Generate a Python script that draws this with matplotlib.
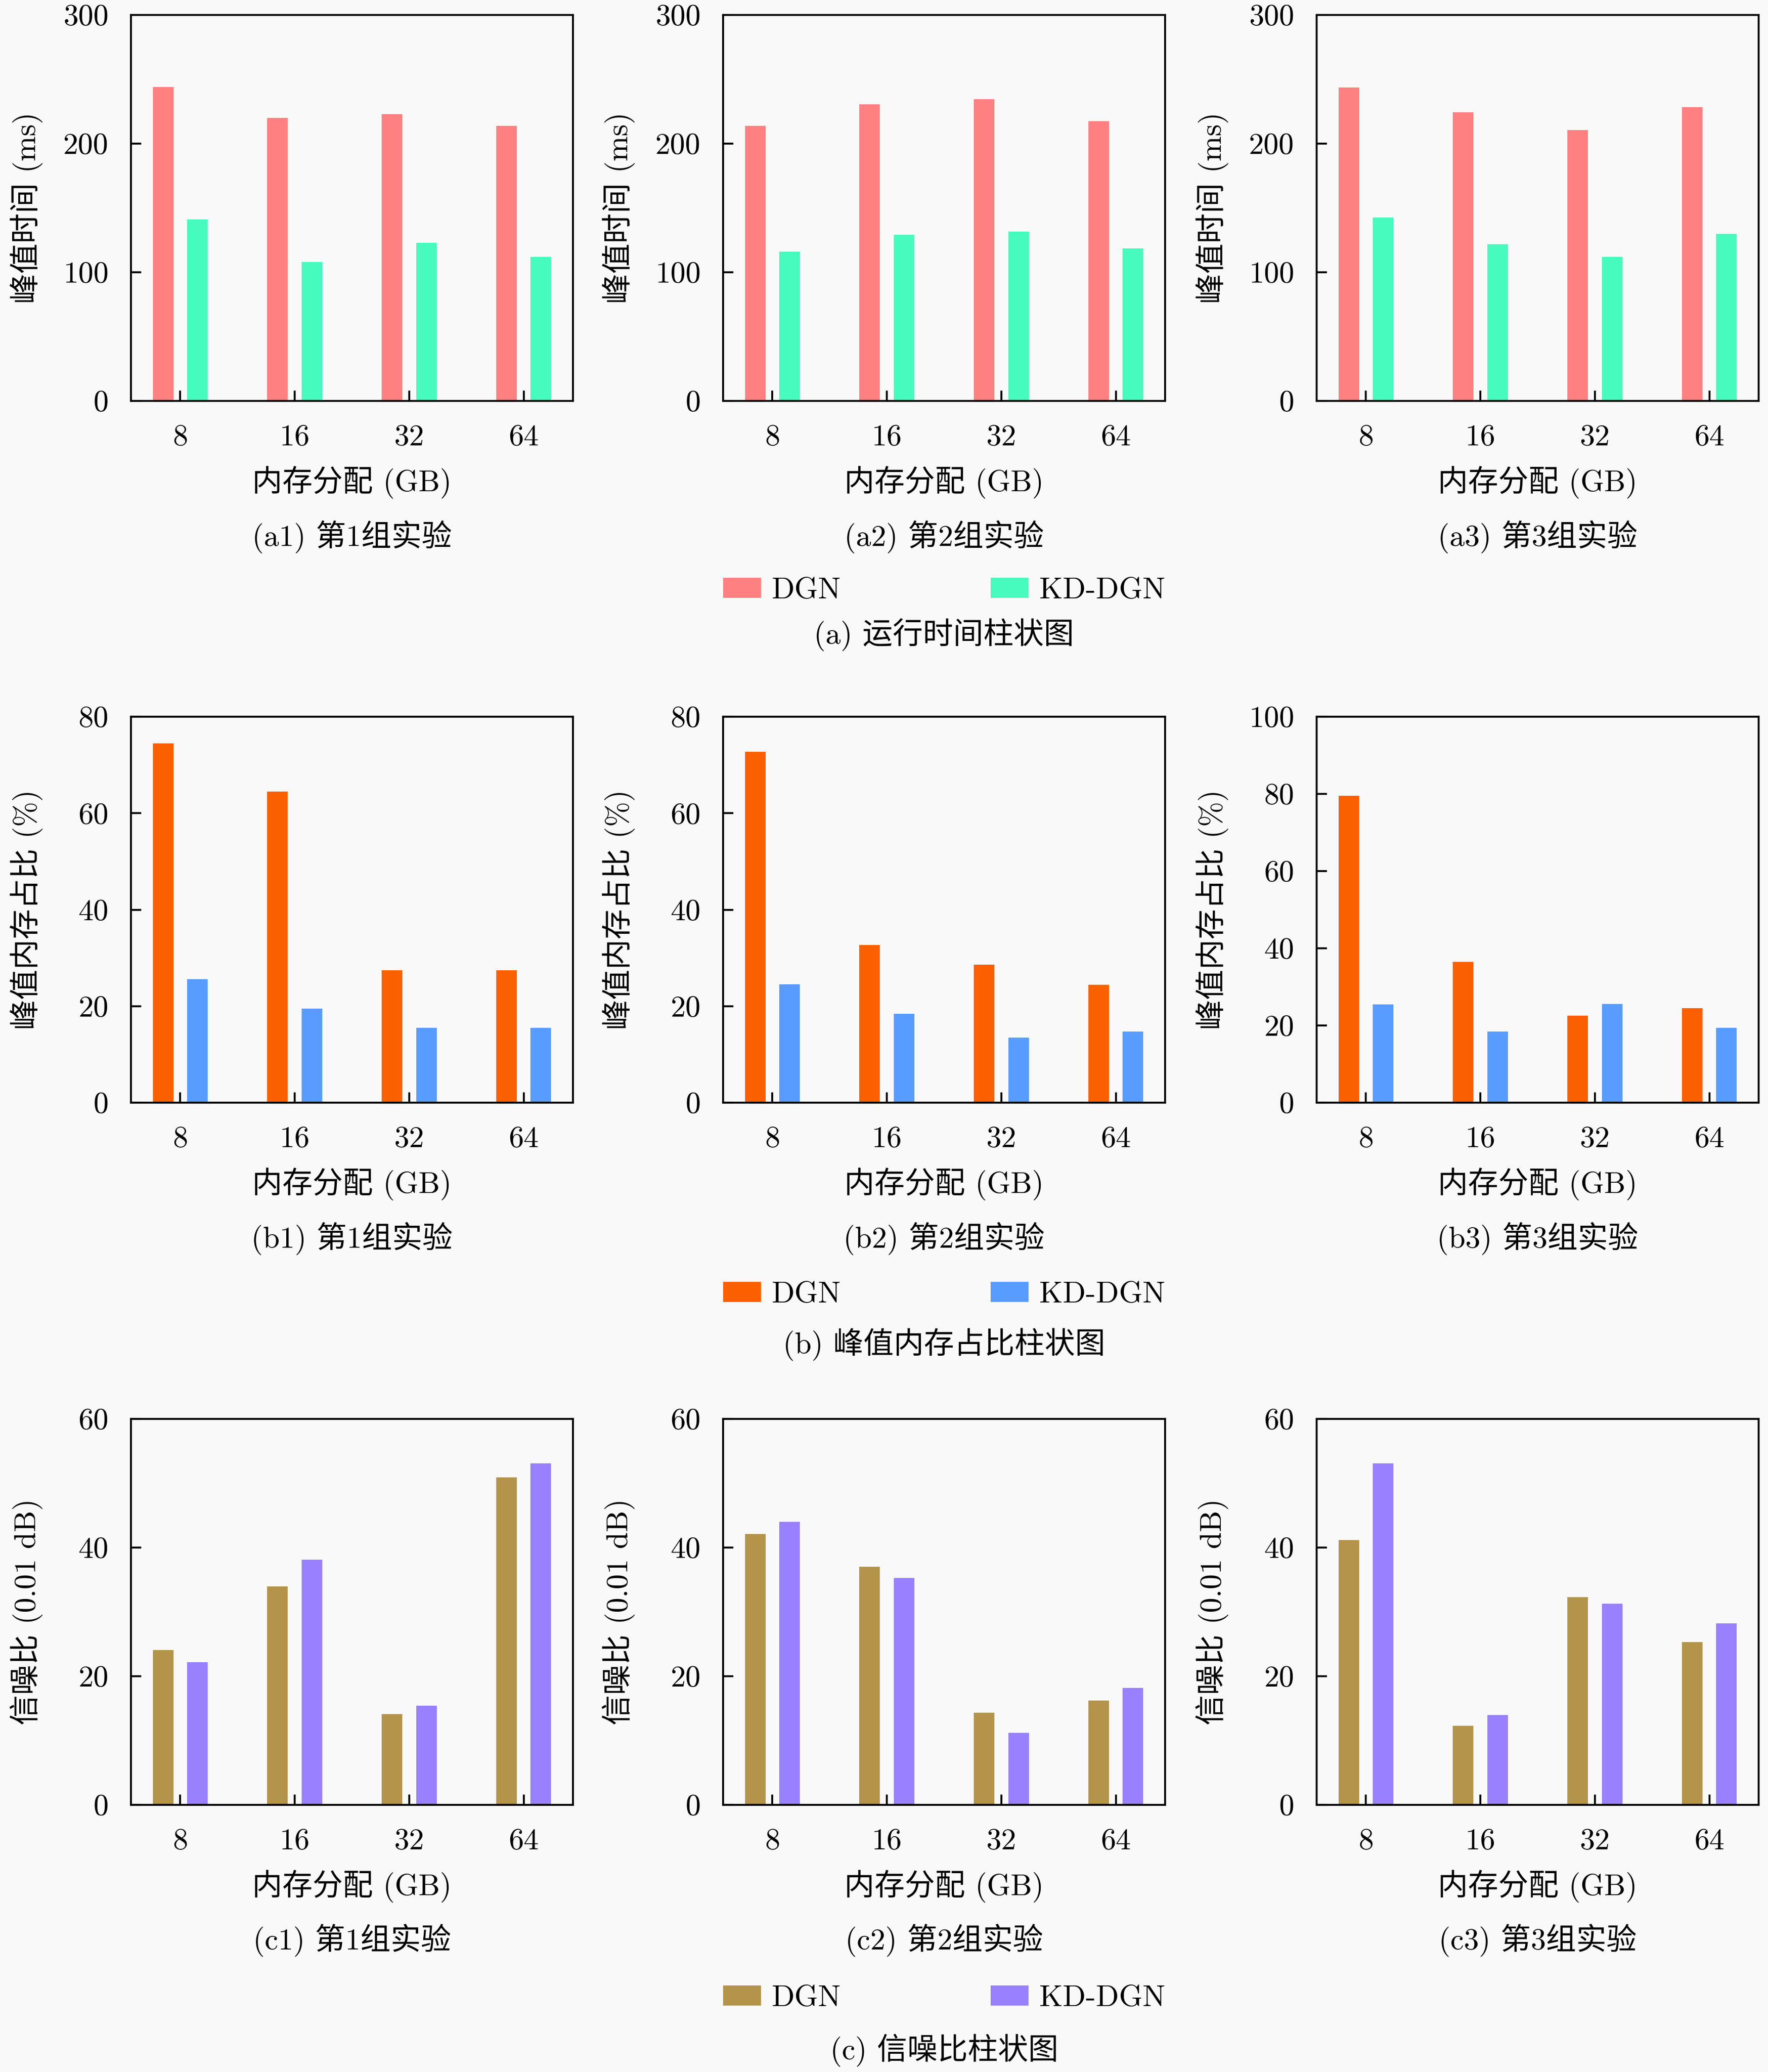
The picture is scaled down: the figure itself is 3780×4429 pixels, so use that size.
import matplotlib
matplotlib.use("Agg")
import matplotlib.pyplot as plt
import numpy as np

plt.rcParams['font.family'] = ['cmr10', 'Noto Sans CJK SC']
plt.rcParams['axes.formatter.use_mathtext'] = True
plt.rcParams['axes.unicode_minus'] = False

# ---------------- data ----------------
categories = ['8', '16', '32', '64']
series_names = ['DGN', 'KD-DGN']

time_dgn = [[244, 220, 223, 214],
            [214, 230.5, 234.5, 217.5],
            [243.5, 224.5, 210.5, 228.5]]
time_kd = [[141, 108, 123, 112],
           [116, 129, 131.5, 118.5],
           [142.5, 122, 112, 130]]

mem_dgn = [[74.5, 64.5, 27.4, 27.4],
           [72.7, 32.7, 28.6, 24.4],
           [79.5, 36.5, 22.5, 24.5]]
mem_kd = [[25.6, 19.5, 15.5, 15.5],
          [24.5, 18.4, 13.5, 14.7],
          [25.4, 18.4, 25.6, 19.4]]

snr_dgn = [[24.1, 34.0, 14.1, 50.9],
           [42.1, 37.0, 14.3, 16.2],
           [41.2, 12.3, 32.3, 25.3]]
snr_kd = [[22.2, 38.1, 15.4, 53.1],
          [44.0, 35.3, 11.2, 18.2],
          [53.1, 14.0, 31.3, 28.2]]

ylims = [[300, 300, 300], [80, 80, 100], [60, 60, 60]]
yticks = [[[0, 100, 200, 300]] * 3,
          [[0, 20, 40, 60, 80], [0, 20, 40, 60, 80], [0, 20, 40, 60, 80, 100]],
          [[0, 20, 40, 60]] * 3]
ylabels = ['峰值时间 (ms)', '峰值内存占比 (%)', '信噪比 (0.01 dB)']
xlabel = '内存分配 (GB)'
sub_captions = [['(a1) 第1组实验', '(a2) 第2组实验', '(a3) 第3组实验'],
                ['(b1) 第1组实验', '(b2) 第2组实验', '(b3) 第3组实验'],
                ['(c1) 第1组实验', '(c2) 第2组实验', '(c3) 第3组实验']]
group_captions = ['(a) 运行时间柱状图', '(b) 峰值内存占比柱状图', '(c) 信噪比柱状图']

colors = [('#FF8080', '#47FABE'),
          ('#FA6000', '#589CFF'),
          ('#B4934A', '#9880FF')]

rows_dgn = [time_dgn, mem_dgn, snr_dgn]
rows_kd = [time_kd, mem_kd, snr_kd]

# ---------------- layout ----------------
W, H = 3780, 4429
bg = '#F9F9F9'
fig = plt.figure(figsize=(W / 300, H / 300), dpi=300, facecolor=bg)

FS = 15.5
col_left = [280, 1546, 2815]
ax_w = 945
row_top = [32, 1532, 3033]
ax_h = 825

sub_y = [1148, 2648, 4148]
leg_y = [1263, 2768, 4272]
grp_y = [1357, 2874, 4383]

bw = 0.18
off = 0.15
x = np.arange(len(categories))

for r in range(3):
    for c in range(3):
        left = col_left[c] / W
        bottom = 1 - (row_top[r] + ax_h) / H
        ax = fig.add_axes([left, bottom, ax_w / W, ax_h / H])
        ax.set_facecolor(bg)
        b1 = ax.bar(x - off, rows_dgn[r][c], width=bw, color=colors[r][0],
                    linewidth=0, label=series_names[0], zorder=2)
        b2 = ax.bar(x + off, rows_kd[r][c], width=bw, color=colors[r][1],
                    linewidth=0, label=series_names[1], zorder=2)
        ax.set_xlim(-0.43, 3.43)
        ax.set_ylim(0, ylims[r][c])
        ax.set_xticks(x)
        ax.set_xticklabels(categories)
        ax.set_yticks(yticks[r][c])
        ax.set_yticklabels([str(v) for v in yticks[r][c]])
        ax.tick_params(axis='both', direction='in', length=5.3, width=1.0,
                       labelsize=FS, top=False, right=False)
        ax.tick_params(axis='x', pad=12)
        ax.tick_params(axis='y', pad=11.5)
        for s in ax.spines.values():
            s.set_linewidth(1.0)
            s.set_zorder(3)
        ax.set_xlabel(xlabel, fontsize=FS, va='center')
        ax.xaxis.set_label_coords(0.5, -174 / ax_h)
        ax.set_ylabel(ylabels[r], fontsize=FS, va='center')
        ax.yaxis.set_label_coords(-223 / ax_w, 0.5)

        cx = (col_left[c] + ax_w / 2) / W
        fig.text(cx, 1 - sub_y[r] / H, sub_captions[r][c],
                 fontsize=FS, ha='center', va='center')

        if c == 1:
            ly = 1 - leg_y[r] / H
            fig.legend(handles=[b1, b2], loc='center',
                       bbox_to_anchor=(col_left[c] / W, ly - 0.01, ax_w / W, 0.02),
                       mode='expand', ncol=2, frameon=False, fontsize=FS,
                       borderpad=0, borderaxespad=0, handlelength=1.26,
                       handleheight=0.65, handletextpad=0.35, columnspacing=1.0)
            fig.text(cx, 1 - grp_y[r] / H, group_captions[r],
                     fontsize=FS, ha='center', va='center')

fig.savefig('out.png', dpi=300, facecolor=bg)
